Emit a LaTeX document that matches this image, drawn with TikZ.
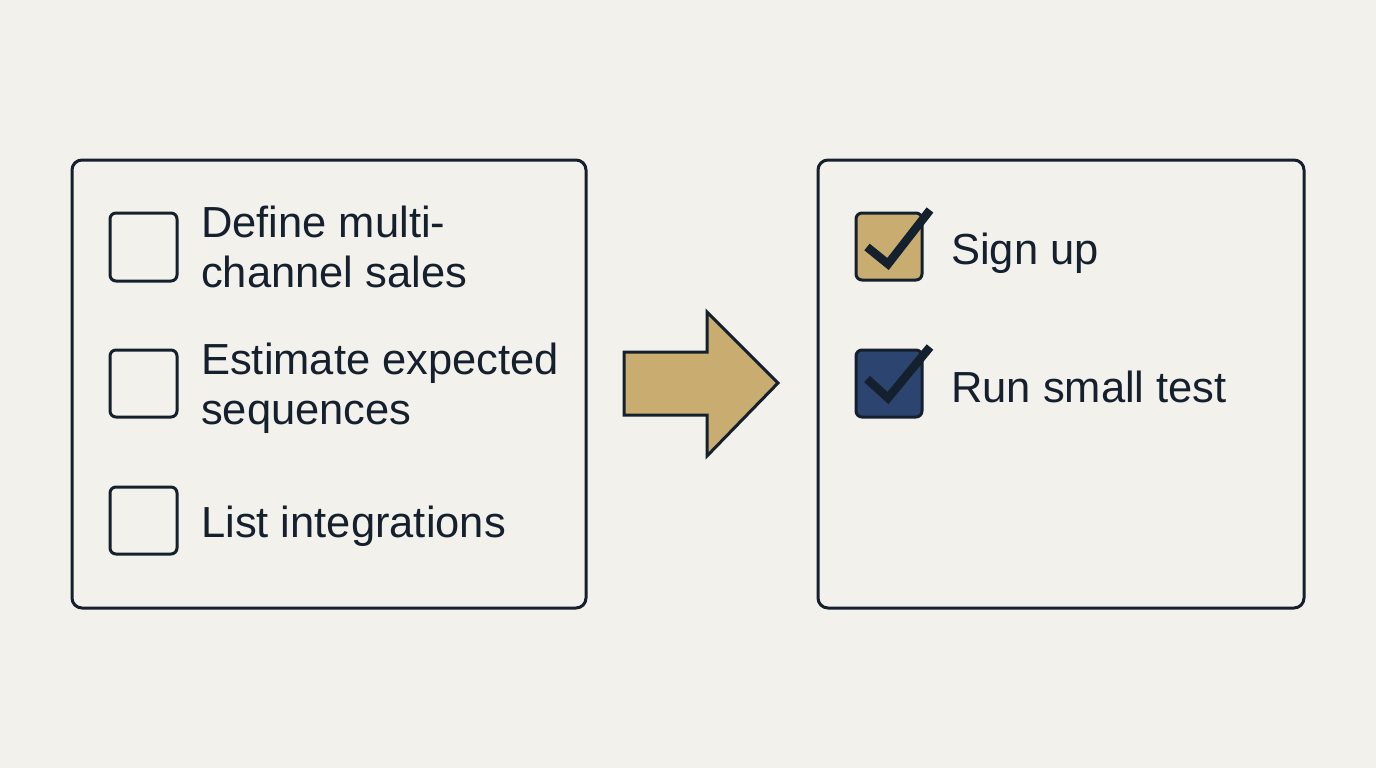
\documentclass[tikz,border=0pt]{standalone}
\usepackage{fontspec}
\setmainfont{Liberation Sans}
\definecolor{bg}{HTML}{F3F1EB}
\definecolor{ink}{HTML}{15202E}
\definecolor{gold}{HTML}{C9AC6F}
\definecolor{navy}{HTML}{2C4470}
\begin{document}
\begin{tikzpicture}[x=1pt,y=-1pt,
  panel/.style={draw=ink,line width=3pt,rounded corners=10pt,fill=bg},
  cbox/.style={draw=ink,line width=3pt,rounded corners=6pt},
  tick/.style={draw=ink,line width=8.5pt,line cap=butt,line join=miter},
  lbl/.style={anchor=base west,inner sep=0pt,text=ink,font=\fontsize{43.5}{50}\selectfont}]
\fill[bg] (0,0) rectangle (1376,768);
\useasboundingbox (0,0) rectangle (1376,768);
% panels
\draw[panel] (72,160) rectangle (586,608);
\draw[panel] (818,160) rectangle (1304,608);
% left checkboxes
\draw[cbox] (110,213) rectangle (177,281);
\draw[cbox] (110,350) rectangle (177,417);
\draw[cbox] (110,487) rectangle (177,554);
\node[lbl] (t1a) at (201,237) {Define multi-};
\node[lbl] (t1b) at (201,287) {channel sales};
\node[lbl] (t2a) at (201,374) {Estimate expected};
\node[lbl] (t2b) at (201,424) {sequences};
\node[lbl] (t3) at (201,537) {List integrations};
% arrow
\draw[draw=ink,line width=3pt,fill=gold,line join=miter]
  (624,352) -- (707,352) -- (707,312) -- (778,383) -- (707,456) -- (707,415) -- (624,415) -- cycle;
% right checkboxes
\draw[cbox,fill=gold] (856,213) rectangle (922,280);
\draw[tick] (867,247) -- (888,264) -- (930,210);
\draw[cbox,fill=navy] (856,350) rectangle (922,417);
\draw[tick] (867,379) -- (888,398) -- (930,347);
\node[lbl] (r1) at (951,264) {Sign up};
\node[lbl] (r2) at (951,402) {Run small test};
\end{tikzpicture}
\end{document}
